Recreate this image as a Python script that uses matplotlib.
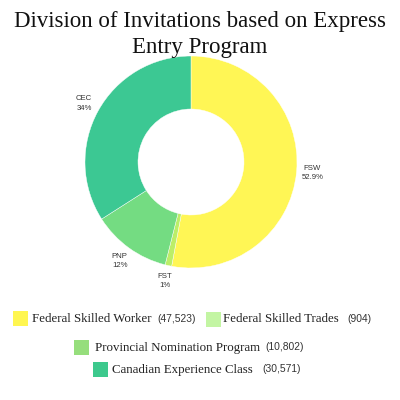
import matplotlib
matplotlib.use("Agg")
import matplotlib.pyplot as plt
from matplotlib.patches import Rectangle

title = "Division of Invitations based on Express\nEntry Program"
codes = ["FSW", "FST", "PNP", "CEC"]
names = ["Federal Skilled Worker", "Federal Skilled Trades",
         "Provincial Nomination Program", "Canadian Experience Class"]
counts = [47523, 904, 10802, 30571]
pct_labels = ["52.9%", "1%", "12%", "34%"]
wedge_colors = ["#FFF655", "#BCEE68", "#74DC82", "#3CC893"]
legend_colors = ["#FFF650", "#C3F5A3", "#96DE7C", "#3DC98D"]

fig = plt.figure(figsize=(4, 4), dpi=100)
fig.patch.set_facecolor("white")

cx, cy, R = 191, 162, 106
ax = fig.add_axes([(cx - R) / 400, (400 - cy - R) / 400, 2 * R / 400, 2 * R / 400])
labels = [f"{c}\n{p}" for c, p in zip(codes, pct_labels)]
wedges, texts = ax.pie(counts, colors=wedge_colors, startangle=90, counterclock=False,
                       labels=labels, labeldistance=1.15,
                       wedgeprops=dict(width=0.5, edgecolor="white", linewidth=0.3),
                       textprops=dict(fontsize=5.6, color="#333333", ha="center",
                                      va="center", linespacing=1.5,
                                      family="Liberation Sans"))
for t in texts:
    t.set_horizontalalignment("center")
ax.set_xlim(-1, 1)
ax.set_ylim(-1, 1)
ax.set_aspect("equal")
ax.axis("off")

fig.text(0.5, 0.972, title, ha="center", va="top", fontsize=16.5,
         family="Liberation Serif", linespacing=1.3, color="#111111")

# legend entries: (square x, square y top, name x, count x)
pos = [(13, 311, 32, 157), (206, 312, 223, 347), (74, 340, 95, 265), (93, 362, 112, 262)]
for (sx, sy, nx, vx), n, v, col in zip(pos, names, counts, legend_colors):
    fig.patches.append(Rectangle((sx / 400, 1 - (sy + 15) / 400), 15 / 400, 15 / 400,
                                 transform=fig.transFigure, facecolor=col,
                                 edgecolor="none"))
    yc = 1 - (sy + 7.5) / 400
    fig.text(nx / 400, yc, n, ha="left", va="center", fontsize=9.3,
             family="Liberation Serif", color="#222222")
    fig.text(vx / 400, yc, f"({v:,})", ha="left", va="center", fontsize=7.4,
             family="Liberation Sans", color="#333333")

fig.savefig("out.png", dpi=100, facecolor="white")
